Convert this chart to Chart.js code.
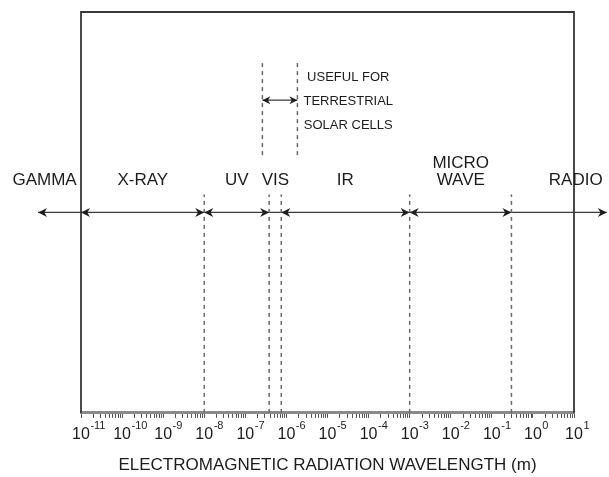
<!DOCTYPE html>
<html>
<head>
<meta charset="utf-8">
<script src="https://cdn.jsdelivr.net/npm/chart.js@4.4.1/dist/chart.umd.min.js"></script>
<style>
  html, body { margin: 0; padding: 0; background: #fff; }
  #wrap { width: 609px; height: 477px; }
</style>
</head>
<body>
<div id="wrap"><canvas id="spectrum"></canvas></div>
<script>
  // axis decades, as exponents of 10 (metres)
  const decades = [-11, -10, -9, -8, -7, -6, -5, -4, -3, -2, -1, 0, 1];

  // band names and the wavelength each label is centred on (m)
  const bandNames = ["GAMMA", "X-RAY", "UV", "VIS", "IR", "MICRO\nWAVE", "RADIO"];
  const bandLabelAt = [1.3e-12, 3.2e-10, 6.2e-8, 5.4e-7, 2.7e-5, 1.75e-2, 11];

  // band boundaries, drawn dashed (m)
  const bandBounds = [1e-8, 3.8e-7, 7.5e-7, 1e-3, 0.3];

  // the arrow line and its arrowheads (m)
  const arrowSpan = [9e-13, 63];
  const leftHeads = [9e-13, 1e-11, 1e-8, 7.5e-7, 1e-3];
  const rightHeads = [1e-8, 3.8e-7, 1e-3, 0.3, 63];

  // range useful for terrestrial solar cells (m)
  const solarRange = [2.6e-7, 1.85e-6];
  const solarText = ["USEFUL FOR", "TERRESTRIAL", "SOLAR CELLS"];
  const solarTextAt = 3.2e-5;

  // vertical levels on a hidden 0..1 axis
  const arrowLevel = 0.5;
  const boundTop = 0.545;
  const solarLow = 0.643;
  const solarHigh = 0.875;
  const solarArrowLevel = 0.78;
  const bandLabelLevel = 0.58;
  const solarTextLevel = 0.778;

  const fontFamily = "'Liberation Sans', Arial, Helvetica, sans-serif";
  const ink = "#1c1c1c";
  Chart.defaults.font.family = fontFamily;
  Chart.defaults.color = ink;

  const dashStyle = {
    type: "line",
    borderColor: "#6a6a6a",
    borderWidth: 1.5,
    borderDash: [4, 4],
    pointRadius: 0,
    fill: false,
  };

  const datasets = [
    ...bandBounds.map((b) => ({
      ...dashStyle,
      data: [{ x: b, y: 0 }, { x: b, y: boundTop }],
    })),
    ...solarRange.map((b) => ({
      ...dashStyle,
      data: [{ x: b, y: solarLow }, { x: b, y: solarHigh }],
    })),
    {
      type: "line",
      data: arrowSpan.map((x) => ({ x, y: arrowLevel })),
      borderColor: "#3a3a3a",
      borderWidth: 1.3,
      pointRadius: 0,
      clip: false,
    },
    {
      type: "line",
      data: solarRange.map((x) => ({ x, y: solarArrowLevel })),
      borderColor: "#3a3a3a",
      borderWidth: 1.2,
      pointRadius: 0,
      clip: false,
    },
  ];

  function arrowHead(ctx, x, y, dir, len, half) {
    ctx.beginPath();
    ctx.moveTo(x, y);
    ctx.lineTo(x - dir * len, y - half);
    ctx.lineTo(x - dir * len * 0.7, y);
    ctx.lineTo(x - dir * len, y + half);
    ctx.closePath();
    ctx.fill();
  }

  const decorations = {
    id: "decorations",
    beforeDatasetsDraw(chart) {
      const { ctx, chartArea } = chart;
      ctx.save();
      ctx.strokeStyle = "#383838";
      ctx.lineWidth = 1.8;
      ctx.beginPath();
      ctx.moveTo(chartArea.left, chartArea.bottom);
      ctx.lineTo(chartArea.left, chartArea.top);
      ctx.lineTo(chartArea.right, chartArea.top);
      ctx.lineTo(chartArea.right, chartArea.bottom);
      ctx.stroke();
      ctx.restore();
    },
    afterDraw(chart) {
      const { ctx } = chart;
      const xs = chart.scales.x;
      const ys = chart.scales.y;
      ctx.save();
      ctx.fillStyle = "#1e1e1e";

      const ay = ys.getPixelForValue(arrowLevel);
      leftHeads.forEach((v) => arrowHead(ctx, xs.getPixelForValue(v), ay, -1, 9, 4.5));
      rightHeads.forEach((v) => arrowHead(ctx, xs.getPixelForValue(v), ay, 1, 9, 4.5));

      const sy = ys.getPixelForValue(solarArrowLevel);
      arrowHead(ctx, xs.getPixelForValue(solarRange[0]), sy, -1, 8, 4);
      arrowHead(ctx, xs.getPixelForValue(solarRange[1]), sy, 1, 8, 4);

      ctx.fillStyle = ink;
      ctx.textAlign = "center";
      ctx.textBaseline = "middle";

      ctx.font = "17px " + fontFamily;
      const by = ys.getPixelForValue(bandLabelLevel);
      bandNames.forEach((name, i) => {
        const lines = name.split("\n");
        const x = xs.getPixelForValue(bandLabelAt[i]);
        lines.forEach((line, j) => {
          ctx.fillText(line, x, by - (lines.length - 1 - j) * 17);
        });
      });

      ctx.font = "13px " + fontFamily;
      const tx = xs.getPixelForValue(solarTextAt);
      const ty = ys.getPixelForValue(solarTextLevel);
      solarText.forEach((line, j) => {
        ctx.fillText(line, tx, ty + (j - 1) * 24);
      });

      // exponents next to the "10" tick labels
      ctx.font = "16px " + fontFamily;
      const baseW = ctx.measureText("10").width;
      ctx.font = "11px " + fontFamily;
      ctx.textAlign = "left";
      ctx.textBaseline = "top";
      decades.forEach((e) => {
        const x = xs.getPixelForValue(Math.pow(10, e));
        ctx.fillText(String(e), x + baseW / 2 + 0.5, xs.top + 8);
      });
      ctx.restore();
    },
  };

  new Chart(document.getElementById("spectrum"), {
    type: "line",
    data: { datasets },
    options: {
      responsive: true,
      maintainAspectRatio: false,
      animation: false,
      devicePixelRatio: 1,
      layout: { padding: { left: 81, right: 35, top: 12, bottom: 1.5 } },
      plugins: {
        legend: { display: false },
        tooltip: { enabled: false },
      },
      scales: {
        x: {
          type: "logarithmic",
          min: 1e-11,
          max: 10,
          afterBuildTicks(scale) {
            const ticks = [];
            decades.forEach((e, i) => {
              for (let m = 1; m <= 9; m++) {
                if (i === decades.length - 1 && m > 1) break;
                ticks.push({ value: m * Math.pow(10, e), major: m === 1 });
              }
            });
            scale.ticks = ticks;
          },
          ticks: {
            autoSkip: false,
            maxRotation: 0,
            minRotation: 0,
            padding: 7,
            color: ink,
            font: { size: 16 },
            callback(value) {
              const l = Math.log10(value);
              return Math.abs(l - Math.round(l)) < 1e-9 ? "10" : "";
            },
          },
          grid: {
            drawOnChartArea: false,
            drawTicks: true,
            tickLength: 5,
            color: "#555",
            lineWidth: 1,
          },
          border: { display: true, color: "#8a8a8a", width: 3 },
          title: {
            display: true,
            text: "ELECTROMAGNETIC RADIATION WAVELENGTH (m)",
            color: ink,
            font: { size: 17 },
            padding: { top: 4, bottom: 0 },
          },
        },
        y: {
          type: "linear",
          min: 0,
          max: 1,
          display: false,
        },
      },
    },
    plugins: [decorations],
  });
</script>
</body>
</html>
